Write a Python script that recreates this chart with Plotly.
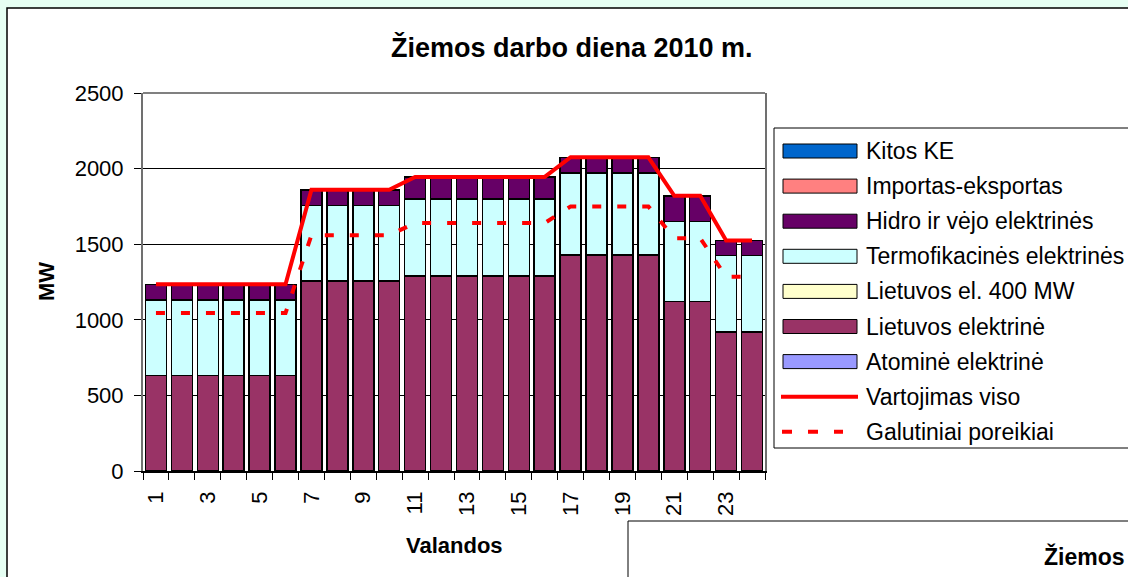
import plotly.graph_objects as go

# ---------------- data ----------------
hours = [1, 2, 3, 4, 5, 6, 7, 8, 9, 10, 11, 12, 13, 14, 15, 16, 17, 18, 19, 20, 21, 22, 23, 24]
tick_labels = ["1", "3", "5", "7", "9", "11", "13", "15", "17", "19", "21", "23"]

atomine = [0, 0, 0, 0, 0, 0, 0, 0, 0, 0, 0, 0, 0, 0, 0, 0, 0, 0, 0, 0, 0, 0, 0, 0]
lietuvos_el = [630, 630, 630, 630, 630, 630, 1255, 1255, 1255, 1255, 1290, 1290,
               1290, 1290, 1290, 1290, 1430, 1430, 1430, 1430, 1120, 1120, 920, 920]
lietuvos_400 = [0, 0, 0, 0, 0, 0, 0, 0, 0, 0, 0, 0, 0, 0, 0, 0, 0, 0, 0, 0, 0, 0, 0, 0]
termofikacines = [500, 500, 500, 500, 500, 500, 500, 500, 500, 500, 510, 510,
                  510, 510, 510, 510, 540, 540, 540, 540, 530, 530, 505, 505]
hidro_vejo = [105, 105, 105, 105, 105, 105, 105, 105, 105, 105, 143, 143,
              143, 143, 143, 143, 105, 105, 105, 105, 170, 170, 100, 100]
importas = [0, 0, 0, 0, 0, 0, 0, 0, 0, 0, 0, 0, 0, 0, 0, 0, 0, 0, 0, 0, 0, 0, 0, 0]
kitos = [0, 0, 0, 0, 0, 0, 0, 0, 0, 0, 0, 0, 0, 0, 0, 0, 0, 0, 0, 0, 0, 0, 0, 0]
vartojimas = [1235, 1235, 1235, 1235, 1235, 1235, 1860, 1860, 1860, 1860, 1945, 1945,
              1945, 1945, 1945, 1945, 2075, 2075, 2075, 2075, 1820, 1820, 1525, 1525]
galutiniai = [1045, 1045, 1045, 1045, 1045, 1045, 1560, 1560, 1560, 1560, 1640, 1640,
              1640, 1640, 1640, 1640, 1750, 1750, 1750, 1750, 1540, 1540, 1285, 1285]

bar_series = [
    ("Atominė elektrinė", atomine, "#9999FF"),
    ("Lietuvos elektrinė", lietuvos_el, "#993366"),
    ("Lietuvos el. 400 MW", lietuvos_400, "#FFFFCC"),
    ("Termofikacinės elektrinės", termofikacines, "#CCFFFF"),
    ("Hidro ir vėjo elektrinės", hidro_vejo, "#660066"),
    ("Importas-eksportas", importas, "#FF8080"),
    ("Kitos KE", kitos, "#0066CC"),
]
RED = "#FF0000"
BG = "#E6FFF3"

# ---------------- geometry helpers (pixel -> paper) ----------------
W, H = 1128, 577
PL, PR, PT, PB = 143, 765, 93, 471


def px(x):
    return (x - PL) / (PR - PL)


def py(y):
    return (PB - y) / (PB - PT)


FONT = "Liberation Sans, Arial, sans-serif"

fig = go.Figure()
for name, vals, col in bar_series:
    fig.add_trace(go.Bar(
        x=hours, y=vals, name=name, showlegend=False,
        marker=dict(color=col, line=dict(color="black", width=1.5)),
    ))
fig.add_trace(go.Scatter(x=hours, y=vartojimas, name="Vartojimas viso", mode="lines",
                         showlegend=False, line=dict(color=RED, width=4)))
fig.add_trace(go.Scatter(x=hours, y=galutiniai, name="Galutiniai poreikiai", mode="lines",
                         showlegend=False, line=dict(color=RED, width=4, dash="9px,16px")))

shapes = []
annotations = []

# chart frame
shapes.append(dict(type="rect", xref="paper", yref="paper", layer="below",
                   x0=px(7), x1=px(1145), y0=py(600), y1=py(8),
                   fillcolor="white", line=dict(color="black", width=1.5)))
# plot area top border
shapes.append(dict(type="line", xref="paper", yref="paper", layer="above",
                   x0=0, x1=1, y0=1, y1=1, line=dict(color="#808080", width=2)))

# legend box
shapes.append(dict(type="rect", xref="paper", yref="paper", layer="above",
                   x0=px(774), x1=px(1145), y0=py(448), y1=py(128),
                   fillcolor="white", line=dict(color="black", width=1)))

legend_items = [(n, c) for n, _, c in reversed(bar_series)]
row0, step = 151, 35.1
for i, (name, col) in enumerate(legend_items):
    cy = row0 + step * i
    shapes.append(dict(type="rect", xref="paper", yref="paper", layer="above",
                       x0=px(783), x1=px(857), y0=py(cy + 7), y1=py(cy - 7),
                       fillcolor=col, line=dict(color="black", width=1)))
    annotations.append(dict(text=name, x=px(864), y=py(cy), xref="paper", yref="paper",
                            xanchor="left", yanchor="middle", showarrow=False,
                            font=dict(family=FONT, size=23, color="black")))
cy = row0 + step * 7
shapes.append(dict(type="line", xref="paper", yref="paper", layer="above",
                   x0=px(781), x1=px(858), y0=py(cy), y1=py(cy),
                   line=dict(color=RED, width=4)))
annotations.append(dict(text="Vartojimas viso", x=px(864), y=py(cy), xref="paper", yref="paper",
                        xanchor="left", yanchor="middle", showarrow=False,
                        font=dict(family=FONT, size=23, color="black")))
cy = row0 + step * 8
shapes.append(dict(type="line", xref="paper", yref="paper", layer="above",
                   x0=px(782), x1=px(843), y0=py(cy), y1=py(cy),
                   line=dict(color=RED, width=4, dash="10px,16px")))
annotations.append(dict(text="Galutiniai poreikiai", x=px(864), y=py(cy), xref="paper", yref="paper",
                        xanchor="left", yanchor="middle", showarrow=False,
                        font=dict(family=FONT, size=23, color="black")))

# second chart box (bottom right)
shapes.append(dict(type="rect", xref="paper", yref="paper", layer="above",
                   x0=px(628), x1=px(1145), y0=py(600), y1=py(521),
                   fillcolor="white", line=dict(color="black", width=1)))
annotations.append(dict(text="<b>Žiemos</b>", x=px(1042), y=py(556), xref="paper", yref="paper",
                        xanchor="left", yanchor="middle", showarrow=False,
                        font=dict(family=FONT, size=23, color="black")))

# titles
annotations.append(dict(text="<b>Žiemos darbo diena 2010 m.</b>", x=px(572), y=py(47),
                        xref="paper", yref="paper", xanchor="center", yanchor="middle",
                        showarrow=False, font=dict(family=FONT, size=27, color="black")))
annotations.append(dict(text="<b>MW</b>", x=px(46), y=py(282), textangle=-90,
                        xref="paper", yref="paper", xanchor="center", yanchor="middle",
                        showarrow=False, font=dict(family=FONT, size=22, color="black")))
annotations.append(dict(text="<b>Valandos</b>", x=px(454), y=py(545),
                        xref="paper", yref="paper", xanchor="center", yanchor="middle",
                        showarrow=False, font=dict(family=FONT, size=22, color="black")))

boundaries = [h - 0.5 for h in hours] + [hours[-1] + 0.5]
odd_hours = [int(t) for t in tick_labels]

fig.update_layout(
    width=W, height=H,
    margin=dict(l=PL, r=W - PR, t=PT, b=H - PB, pad=0),
    paper_bgcolor=BG, plot_bgcolor="white",
    barmode="stack", bargap=0.19,
    showlegend=False,
    font=dict(family=FONT, size=22, color="black"),
    shapes=shapes, annotations=annotations,
    xaxis=dict(range=[0.5, 24.5], tickmode="array", tickvals=odd_hours, ticktext=tick_labels,
               tickangle=-90, ticks="", showgrid=False, zeroline=False,
               showline=True, linecolor="black", linewidth=1.5,
               ticklabelstandoff=10,
               tickfont=dict(family=FONT, size=22, color="black"),
               minor=dict(tickmode="array", tickvals=boundaries, ticks="outside",
                          ticklen=7, tickcolor="black", tickwidth=1, showgrid=False)),
    yaxis=dict(range=[0, 2500], dtick=500, ticks="outside", ticklen=7, tickcolor="black",
               showgrid=True, gridcolor="black", gridwidth=1, zeroline=False,
               showline=True, linecolor="#707070", linewidth=2, mirror=True,
               ticklabelstandoff=6,
               tickfont=dict(family=FONT, size=22, color="black")),
)

fig.write_html(
    "out.html",
    config={"displayModeBar": False},
    post_script="document.body.style.margin='0';document.body.style.overflow='hidden';"
                "document.body.style.background='" + BG + "';",
)
